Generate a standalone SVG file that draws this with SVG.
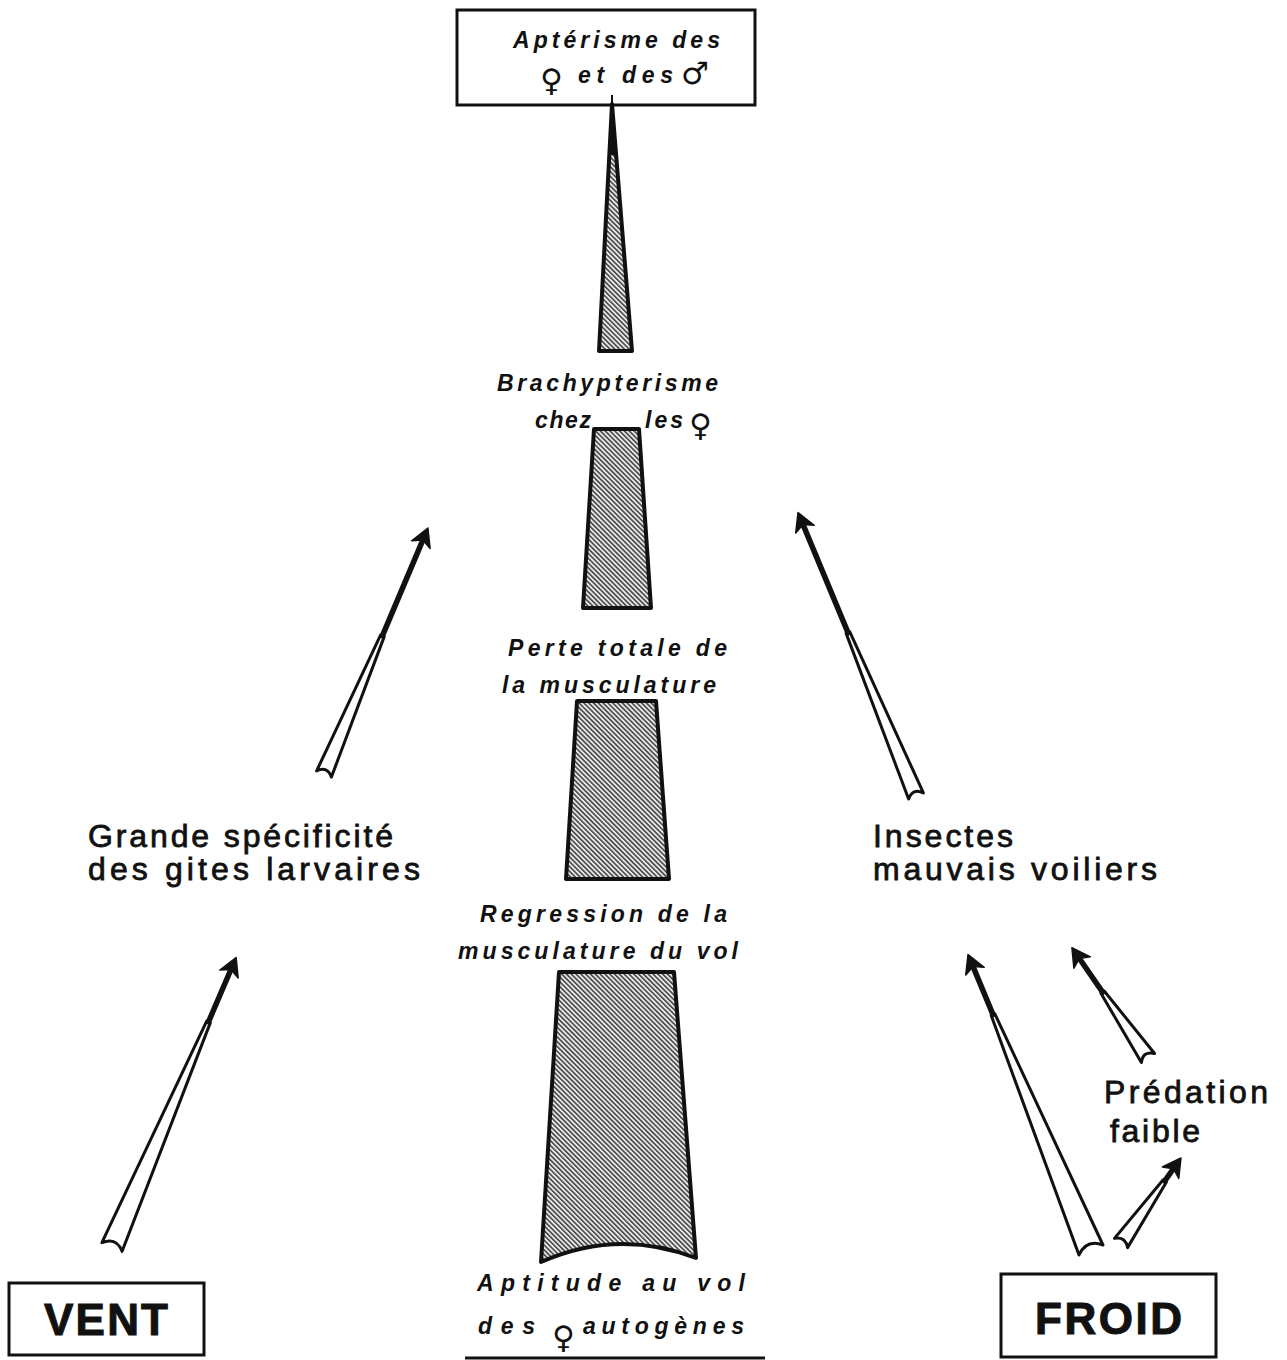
<svg xmlns="http://www.w3.org/2000/svg" width="1287" height="1360" viewBox="0 0 1287 1360">
<defs>
<pattern id="hatch" patternUnits="userSpaceOnUse" width="3.4" height="3.4" patternTransform="rotate(-45)">
<rect width="3.4" height="3.4" fill="#e8e8e8"/>
<line x1="0.8" y1="0" x2="0.8" y2="3.4" stroke="#222" stroke-width="1.3"/>
</pattern>
<style>
.it{font-family:"Liberation Sans","DejaVu Sans",sans-serif;font-style:italic;font-weight:bold;font-size:23px;fill:#111}
.sym{font-family:"DejaVu Sans","Liberation Sans",sans-serif;font-weight:bold;font-size:31px;fill:#111}
.up{font-family:"Liberation Sans","DejaVu Sans",sans-serif;font-size:32px;fill:#111;stroke:#111;stroke-width:0.8}
.big{font-family:"Liberation Sans","DejaVu Sans",sans-serif;font-weight:bold;font-size:44px;fill:#111;stroke:#111;stroke-width:1}
.box{fill:#fff;stroke:#111;stroke-width:3}
.bar{fill:url(#hatch);stroke:#111;stroke-width:4;stroke-linejoin:round}
.shaft{fill:#fff;stroke:#111;stroke-width:3;stroke-linejoin:round}
.solid{stroke:#111;stroke-width:5.5;stroke-linecap:round}
.head{fill:#111;stroke:#111;stroke-width:1.5;stroke-linejoin:round}
</style>
</defs>
<rect width="1287" height="1360" fill="#fff"/>

<g id="connectors">
<g transform="translate(324,774) rotate(22.9)">
<path class="shaft" d="M -8,0 Q 0,-9 8,0 L 2,-150 L -2,-150 Z"/>
<line class="solid" x1="0" y1="-150" x2="0" y2="-252"/>
<path class="head" d="M 0,-267 L -10,-249 L 0,-254 L 10,-249 Z"/>
</g>
<g transform="translate(916,796) rotate(-22.6)">
<path class="shaft" d="M -8,0 Q 0,-9 8,0 L 2,-177 L -2,-177 Z"/>
<line class="solid" x1="0" y1="-177" x2="0" y2="-292"/>
<path class="head" d="M 0,-307 L -10,-289 L 0,-294 L 10,-289 Z"/>
</g>
<g transform="translate(112,1247) rotate(23.2)">
<path class="shaft" d="M -11,0 Q 0,-11 11,0 L 2,-245 L -2,-245 Z"/>
<line class="solid" x1="0" y1="-245" x2="0" y2="-300"/>
<path class="head" d="M 0,-315 L -10,-297 L 0,-302 L 10,-297 Z"/>
</g>
<g transform="translate(1091,1250) rotate(-22.6)">
<path class="shaft" d="M -13,0 Q 0,-12 13,0 L 2,-255 L -2,-255 Z"/>
<line class="solid" x1="0" y1="-255" x2="0" y2="-305"/>
<path class="head" d="M 0,-320 L -10,-302 L 0,-307 L 10,-302 Z"/>
</g>
<g transform="translate(1148,1058) rotate(-34.6)">
<path class="shaft" d="M -8,0 Q 0,-9 8,0 L 2,-80 L -2,-80 Z"/>
<line class="solid" x1="0" y1="-80" x2="0" y2="-119"/>
<path class="head" d="M 0,-134 L -10,-116 L 0,-121 L 10,-116 Z"/>
</g>
<g transform="translate(1121,1243) rotate(35.2)">
<path class="shaft" d="M -8,0 Q 0,-8 8,0 L 2,-76 L -2,-76 Z"/>
<line class="solid" x1="0" y1="-76" x2="0" y2="-89"/>
<path class="head" d="M 0,-104 L -10,-86 L 0,-91 L 10,-86 Z"/>
</g>
</g>

<g id="apterisme">
<rect class="box" x="457" y="10" width="298" height="95"/>
<text class="it" x="513" y="48" textLength="207" lengthAdjust="spacing">Aptérisme des</text>
<text class="sym" x="540" y="91">♀</text>
<text class="it" x="578" y="83" textLength="95" lengthAdjust="spacing">et des</text>
<text class="sym" x="681" y="84" font-size="33">♂</text>
</g>

<g id="spike">
<line x1="612" y1="95" x2="612" y2="108" stroke="#111" stroke-width="2"/>
<polygon class="bar" points="612,104 632,351 599,351" stroke-width="5"/>
<polygon points="612,100 616,155 608,155" fill="#111"/>
</g>

<g id="brachypterisme">
<text class="it" x="497" y="391" textLength="221" lengthAdjust="spacing">Brachypterisme</text>
<text class="it" x="535" y="428" textLength="56" lengthAdjust="spacing">chez</text>
<text class="it" x="645" y="428" textLength="38" lengthAdjust="spacing">les</text>
<text class="sym" x="689" y="436" font-size="30">♀</text>
<polygon class="bar" points="594,429 639,429 651,608 583,608"/>
</g>

<g id="perte">
<text class="it" x="508" y="656" textLength="219" lengthAdjust="spacing">Perte totale de</text>
<text class="it" x="502" y="693" textLength="214" lengthAdjust="spacing">la musculature</text>
<polygon class="bar" points="577,701 656,701 669,879 566,879"/>
</g>

<g id="regression">
<text class="it" x="480" y="922" textLength="247" lengthAdjust="spacing">Regression de la</text>
<text class="it" x="458" y="959" textLength="280" lengthAdjust="spacing">musculature du vol</text>
<path class="bar" d="M 559,972 L 674,972 L 696,1258 Q 618,1228 541,1262 Z"/>
</g>

<g id="aptitude">
<text class="it" x="477" y="1291" textLength="268" lengthAdjust="spacing">Aptitude au vol</text>
<text class="it" x="478" y="1334" textLength="57" lengthAdjust="spacing">des</text>
<text class="sym" x="552" y="1348" font-size="33">♀</text>
<text class="it" x="583" y="1334" textLength="161" lengthAdjust="spacing">autogènes</text>
<line x1="465" y1="1358" x2="765" y2="1358" stroke="#111" stroke-width="3"/>
</g>

<g id="grande">
<text class="up" x="88" y="847" textLength="305" lengthAdjust="spacing">Grande spécificité</text>
<text class="up" x="88" y="880" textLength="332" lengthAdjust="spacing">des gites  larvaires</text>
</g>

<g id="insectes">
<text class="up" x="873" y="847" textLength="140" lengthAdjust="spacing">Insectes</text>
<text class="up" x="873" y="880" textLength="284" lengthAdjust="spacing">mauvais voiliers</text>
</g>

<g id="predation">
<text class="up" x="1104" y="1103" font-size="29" textLength="164" lengthAdjust="spacing">Prédation</text>
<text class="up" x="1110" y="1142" font-size="29" textLength="90" lengthAdjust="spacing">faible</text>
</g>

<g id="vent">
<rect class="box" x="9" y="1283" width="195" height="72"/>
<text class="big" x="44" y="1335" font-size="42" textLength="124" lengthAdjust="spacing">VENT</text>
</g>

<g id="froid">
<rect class="box" x="1001" y="1274" width="215" height="83"/>
<text class="big" x="1035" y="1334" font-size="46" textLength="147" lengthAdjust="spacing">FROID</text>
</g>
</svg>
